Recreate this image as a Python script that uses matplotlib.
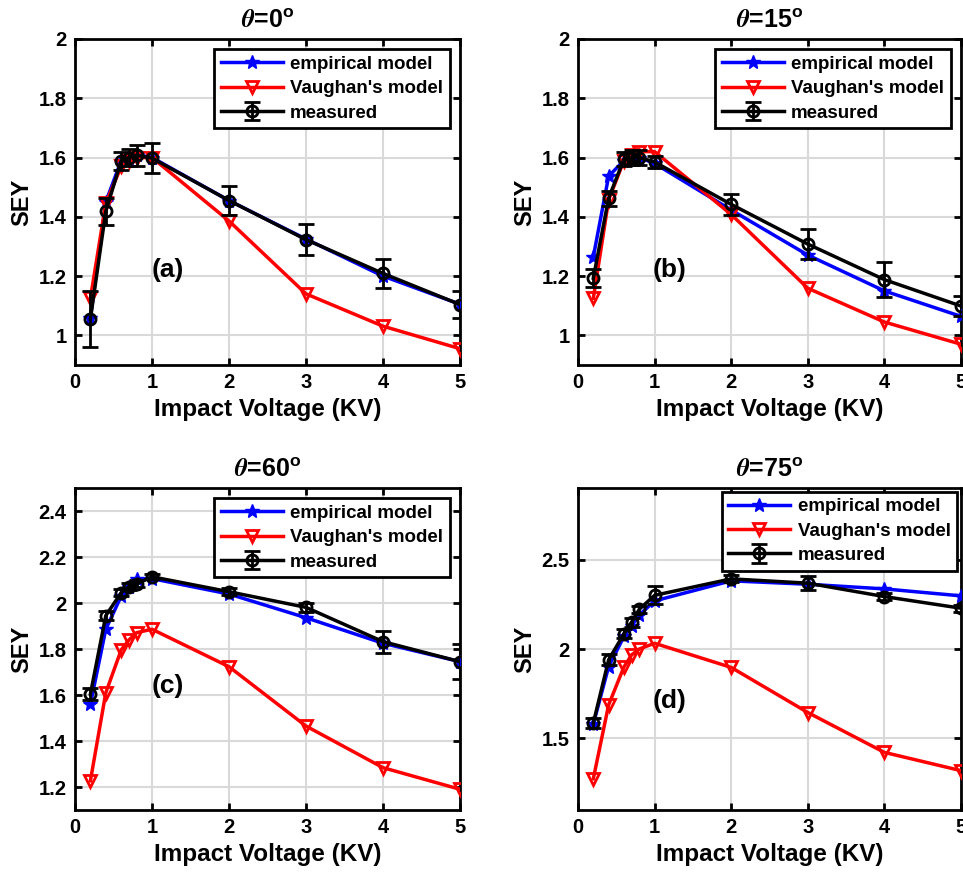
import matplotlib
matplotlib.use("Agg")
import matplotlib.pyplot as plt
from matplotlib.ticker import FuncFormatter

plt.rcParams['font.family'] = ['Liberation Sans', 'DejaVu Sans']
plt.rcParams['font.weight'] = 'bold'
plt.rcParams['mathtext.fontset'] = 'stix'

voltage = [0.2, 0.4, 0.6, 0.7, 0.8, 1, 2, 3, 4, 5]

titles = [r'$\mathit{\theta}$=0$^\mathregular{o}$', r'$\mathit{\theta}$=15$^\mathregular{o}$',
          r'$\mathit{\theta}$=60$^\mathregular{o}$', r'$\mathit{\theta}$=75$^\mathregular{o}$']
panel_labels = ['(a)', '(b)', '(c)', '(d)']

emp_a = [1.06, 1.45, 1.59, 1.60, 1.61, 1.60, 1.455, 1.325, 1.20, 1.105]
vau_a = [1.125, 1.446, 1.57, 1.59, 1.60, 1.60, 1.386, 1.14, 1.031, 0.955]
mea_a = [1.055, 1.419, 1.589, 1.60, 1.608, 1.598, 1.455, 1.323, 1.209, 1.104]
err_a = [0.095, 0.045, 0.03, 0.03, 0.035, 0.05, 0.05, 0.053, 0.05, 0.045]

emp_b = [1.265, 1.537, 1.59, 1.60, 1.60, 1.58, 1.423, 1.271, 1.150, 1.064]
vau_b = [1.125, 1.457, 1.59, 1.61, 1.62, 1.62, 1.408, 1.159, 1.045, 0.97]
mea_b = [1.193, 1.463, 1.595, 1.60, 1.60, 1.585, 1.442, 1.308, 1.188, 1.099]
err_b = [0.03, 0.025, 0.025, 0.025, 0.025, 0.02, 0.035, 0.05, 0.06, 0.035]

emp_c = [1.56, 1.886, 2.03, 2.07, 2.103, 2.106, 2.039, 1.936, 1.825, 1.745]
vau_c = [1.227, 1.61, 1.796, 1.839, 1.871, 1.886, 1.723, 1.465, 1.284, 1.19]
mea_c = [1.604, 1.945, 2.045, 2.071, 2.083, 2.114, 2.049, 1.981, 1.832, 1.745]
err_c = [0.025, 0.02, 0.015, 0.015, 0.015, 0.01, 0.015, 0.02, 0.048, 0.075]

emp_d = [1.58, 1.902, 2.07, 2.13, 2.19, 2.269, 2.381, 2.362, 2.336, 2.297]
vau_d = [1.275, 1.688, 1.90, 1.967, 2.0, 2.032, 1.897, 1.645, 1.422, 1.32]
mea_d = [1.586, 1.94, 2.085, 2.15, 2.222, 2.30, 2.392, 2.368, 2.293, 2.228]
err_d = [0.03, 0.03, 0.025, 0.025, 0.02, 0.05, 0.02, 0.04, 0.02, 0.02]

emp = [emp_a, emp_b, emp_c, emp_d]
vau = [vau_a, vau_b, vau_c, vau_d]
mea = [mea_a, mea_b, mea_c, mea_d]
err = [err_a, err_b, err_c, err_d]

ylims = [(0.9, 2.0), (0.9, 2.0), (1.1, 2.5), (1.1, 2.9)]
yticks = [[1, 1.2, 1.4, 1.6, 1.8, 2], [1, 1.2, 1.4, 1.6, 1.8, 2],
          [1.2, 1.4, 1.6, 1.8, 2, 2.2, 2.4], [1.5, 2, 2.5]]
label_pos = [(1.2, 1.22), (1.2, 1.22), (1.2, 1.64), (1.2, 1.71)]

W, H = 963, 872
fig = plt.figure(figsize=(W / 100, H / 100), dpi=100)
boxes = [(75, 39, 385, 326), (578, 39, 383, 326), (75, 488, 385, 322), (578, 488, 383, 322)]
leg_pad = [0.55, 0.55, 0.55, 0.2]

fmt = FuncFormatter(lambda v, p: '%g' % v)

for i, (l, t, w, h) in enumerate(boxes):
    ax = fig.add_axes([l / W, 1 - (t + h) / H, w / W, h / H])
    ax.plot(voltage, emp[i], color='blue', lw=2.5, marker='*', ms=10, label='empirical model', zorder=3)
    ax.plot(voltage, vau[i], color='red', lw=2.5, marker='v', ms=9, mfc='none', mew=2,
            label="Vaughan's model", zorder=3)
    ax.errorbar(voltage, mea[i], yerr=err[i], color='black', lw=2.5, marker='o', ms=8, mfc='none',
                mew=2, capsize=6, elinewidth=2, capthick=2, label='measured', zorder=4)
    ax.set_xlim(0, 5)
    ax.set_ylim(*ylims[i])
    ax.set_xticks([0, 1, 2, 3, 4, 5])
    ax.set_yticks(yticks[i])
    ax.yaxis.set_major_formatter(fmt)
    ax.grid(True, color='#d9d9d9', lw=1.5)
    ax.set_axisbelow(True)
    for s in ax.spines.values():
        s.set_linewidth(2)
    ax.tick_params(direction='in', length=5, width=2, top=True, right=True, labelsize=14.5, pad=6)
    for lab in ax.get_xticklabels() + ax.get_yticklabels():
        lab.set_fontweight('bold')
    ax.set_xlabel('Impact Voltage (KV)', fontsize=17.5, fontweight='bold', labelpad=4)
    ax.set_ylabel('SEY', fontsize=17, fontweight='bold', labelpad=4)
    ax.set_title(titles[i], fontsize=18, fontweight='bold', pad=8)
    ax.text(label_pos[i][0], label_pos[i][1], panel_labels[i], fontsize=19, fontweight='bold',
            ha='center', va='center')
    leg = ax.legend(loc='upper right', fontsize=13.5, frameon=True, fancybox=False,
                    edgecolor='black', framealpha=1, borderpad=0.35, labelspacing=0.38,
                    handlelength=3.3, handletextpad=0.4, borderaxespad=leg_pad[i])
    leg.get_frame().set_linewidth(2)
    for txt in leg.get_texts():
        txt.set_fontweight('bold')

fig.savefig('out.png', dpi=100)
